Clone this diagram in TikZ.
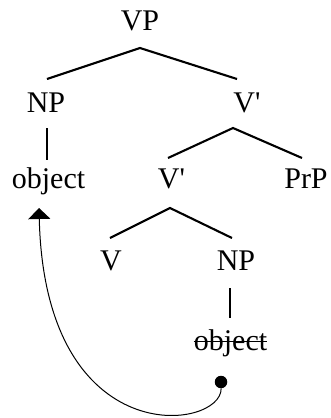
\documentclass[tikz,border=0pt]{standalone}
\usepackage{fontspec}
\setmainfont{Liberation Serif}
\usetikzlibrary{arrows.meta}
\begin{document}
\begin{tikzpicture}[x=1pt,y=-1pt,
  lab/.style={anchor=base,inner sep=0pt,font=\fontsize{30}{36}\selectfont},
  branch/.style={line width=2.1pt},
  movearrow/.style={line width=1pt,-{Triangle[width=22pt,length=11pt]}},
  trace/.style={circle,fill=black,inner sep=0pt,minimum size=12.5pt}]
\useasboundingbox (0,0) rectangle (331,418);
\node[lab] (vp) at (140,30) {VP};
\node[lab] (np) at (46,112) {NP};
\node[lab] (v1) at (247,112) {V\textquotesingle};
\node[lab] (obj) at (48.5,188) {object};
\node[lab] (v2) at (171.5,188) {V\textquotesingle};
\node[lab] (prp) at (306,188) {PrP};
\node[lab] (v) at (111,270) {V};
\node[lab] (np2) at (236,270) {NP};
\node[lab] (obj2) at (230.5,350) {object};
\node[trace] (dot) at (221,382) {};
\coordinate (tip) at (39,208);
\draw[branch] ([shift={(1pt,33pt)}]np.base) -- ([yshift=-18pt]vp.base) -- ([shift={(-10pt,33pt)}]v1.base);
\draw[branch] ([shift={(1pt,-16pt)}]np.base) -- ([shift={(-1.5pt,28pt)}]obj.base);
\draw[branch] ([shift={(-3.5pt,30pt)}]v2.base) -- ([shift={(-14pt,-16pt)}]v1.base) -- ([shift={(-4pt,30pt)}]prp.base);
\draw[branch] ([shift={(-1pt,32pt)}]v.base) -- ([shift={(-1.5pt,-20pt)}]v2.base) -- ([shift={(-4pt,32pt)}]np2.base);
\draw[branch] ([shift={(-6pt,-18pt)}]np2.base) -- ([shift={(-0.5pt,32pt)}]obj2.base);
\draw[line width=1pt] ([yshift=9pt]obj2.base west) -- ([yshift=9pt]obj2.base east);
\draw[movearrow] (dot) .. controls (222,430) and (45,455) .. (tip);
\end{tikzpicture}
\end{document}
